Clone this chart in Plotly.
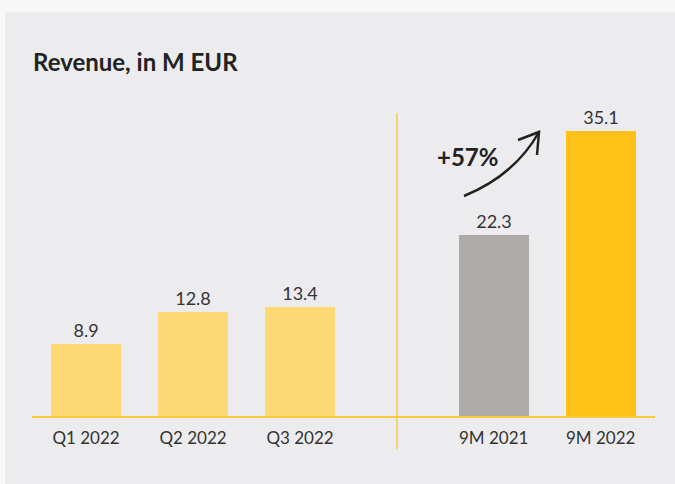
import plotly.graph_objects as go

categories = ["Q1 2022", "Q2 2022", "Q3 2022", "9M 2021", "9M 2022"]
positions = [0, 1, 2, 3.81, 4.81]
values = [8.9, 12.8, 13.4, 22.3, 35.1]
colors = ["#fed873", "#fed873", "#fed873", "#aeaaa8", "#ffc018"]
growth_label = "+57%"

W, H = 675, 484
ML, MR, MT, MB = 32, 20, 100, 68
PW, PH = W - ML - MR, H - MT - MB
X0, X1 = -0.505, 5.318
Y0, Y1 = 0, 38.92

def px_to_x(px):
    return X0 + (px - ML) / PW * (X1 - X0)

def py_to_y(py):
    return Y0 + (H - MB - py) / PH * (Y1 - Y0)

def px_to_paper(px):
    return (px - ML) / PW

def py_to_paper(py):
    return (H - MB - py) / PH

fig = go.Figure()
fig.add_trace(go.Bar(
    x=positions, y=values, width=0.654,
    marker=dict(color=colors, line=dict(width=0)),
    text=[f"{v:.1f}" for v in values], textposition="outside",
    textfont=dict(family="Lato", size=18, color="#333333"),
    cliponaxis=False, hoverinfo="skip",
))

shapes = [
    # page strips
    dict(type="rect", xref="paper", yref="paper", x0=px_to_paper(0), x1=px_to_paper(W),
         y0=py_to_paper(0), y1=py_to_paper(12), fillcolor="#f7f7f7", line=dict(width=0), layer="below"),
    dict(type="rect", xref="paper", yref="paper", x0=px_to_paper(0), x1=px_to_paper(5),
         y0=py_to_paper(0), y1=py_to_paper(H), fillcolor="#f7f7f7", line=dict(width=0), layer="below"),
    # divider
    dict(type="line", xref="x", yref="paper", x0=px_to_x(397), x1=px_to_x(397),
         y0=py_to_paper(449), y1=py_to_paper(113), line=dict(color="#fcc419", width=1.2)),
    # curved arrow
    dict(type="path", xref="x", yref="y",
         path=f"M {px_to_x(464)},{py_to_y(196)} Q {px_to_x(515)},{py_to_y(175)} {px_to_x(539)},{py_to_y(132)}",
         line=dict(color="#222222", width=2.5)),
    dict(type="path", xref="x", yref="y",
         path=f"M {px_to_x(518)},{py_to_y(140)} L {px_to_x(539)},{py_to_y(132)} L {px_to_x(537)},{py_to_y(155)}",
         line=dict(color="#222222", width=2.5)),
]

annotations = [
    dict(text="<b>Revenue, in M EUR</b>", xref="paper", yref="paper",
         x=px_to_paper(31), y=py_to_paper(61), xanchor="left", yanchor="middle",
         showarrow=False, font=dict(family="Lato", size=24, color="#222222")),
    dict(text=f"<b>{growth_label}</b>", xref="x", yref="y",
         x=px_to_x(467), y=py_to_y(156), xanchor="center", yanchor="middle",
         showarrow=False, font=dict(family="Lato", size=24, color="#222222")),
]

fig.update_layout(
    width=W, height=H,
    margin=dict(l=ML, r=MR, t=MT, b=MB, pad=0),
    paper_bgcolor="#ececee", plot_bgcolor="rgba(0,0,0,0)",
    showlegend=False, bargap=0,
    shapes=shapes, annotations=annotations,
    xaxis=dict(range=[X0, X1], tickvals=positions, ticktext=categories,
               showgrid=False, zeroline=False, showline=True, linecolor="#fdc93a", linewidth=2,
               ticks="outside", ticklen=6, tickcolor="rgba(0,0,0,0)",
               tickfont=dict(family="Lato", size=17, color="#333333"), fixedrange=True),
    yaxis=dict(range=[Y0, Y1], visible=False, fixedrange=True),
)

fig.write_html("out.html", config={"displayModeBar": False},
               post_script="document.body.style.margin='0';document.body.style.overflow='hidden';")
